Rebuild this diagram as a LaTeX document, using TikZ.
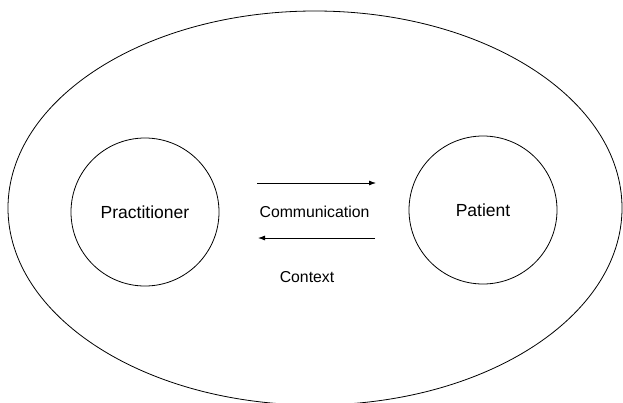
\documentclass[tikz,border=0pt]{standalone}
\usepackage{fontspec}
\setmainfont{Liberation Sans}
\usetikzlibrary{arrows.meta,shapes.geometric}
\begin{document}
\begin{tikzpicture}[x=1pt,y=-1pt,
  outline/.style={draw=black,line width=0.8pt},
  party/.style={circle,outline,minimum size=148pt,inner sep=0pt,
    font=\fontsize{17.5}{20}\selectfont},
  caption/.style={inner sep=0pt,font=\fontsize{15.8}{18}\selectfont},
  flow/.style={line width=0.8pt,-{Latex[length=7pt,width=5pt]}}]
\useasboundingbox (0,0) rectangle (623,402);
% surrounding context, cut off at the lower edge
\begin{scope}
  \clip (0,0) rectangle (623,402);
  \node[ellipse,outline,minimum width=614pt,minimum height=394pt,inner sep=0pt]
    (setting) at (315,208) {};
\end{scope}
% the two parties
\node[party] (practitioner) at (145,212) {Practitioner};
\node[party] (patient) at (483,210) {Patient};
% exchange between them
\coordinate (toL) at (257,183);
\coordinate (toR) at (376,183);
\coordinate (backR) at (375,238);
\coordinate (backL) at (258,238);
\draw[flow] (toL) -- (toR);
\draw[flow] (backR) -- (backL);
\node[caption] (communication) at (314.5,212) {Communication};
\node[caption] (context) at (307,277) {Context};
\end{tikzpicture}
\end{document}
